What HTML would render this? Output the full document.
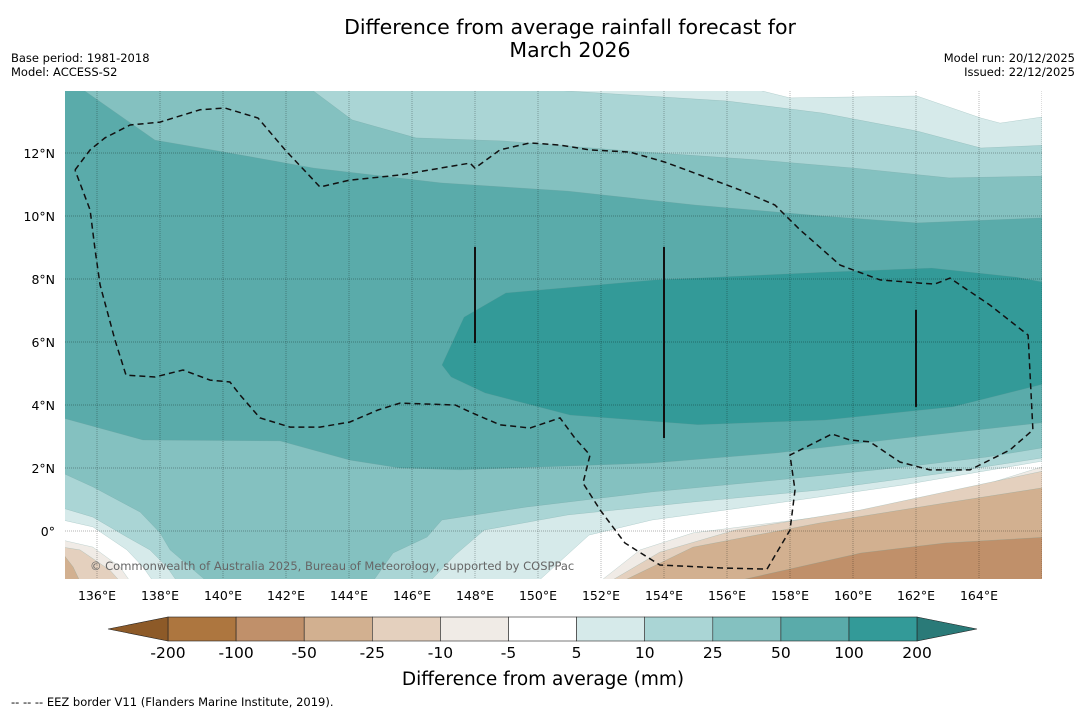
<!DOCTYPE html>
<html><head><meta charset="utf-8"><style>
body{margin:0;background:#fff;}
svg{display:block;font-family:"DejaVu Sans","Liberation Sans",sans-serif;}
</style></head><body>
<svg id="chart" width="1085" height="713" viewBox="0 0 1085 713" xmlns="http://www.w3.org/2000/svg">
<rect width="1085" height="713" fill="#fff"/>
<text x="570" y="34" font-size="20.5" text-anchor="middle" fill="#000">Difference from average rainfall forecast for</text>
<text x="570" y="57" font-size="20.5" text-anchor="middle" fill="#000">March 2026</text>
<text x="11" y="62" font-size="11.5">Base period: 1981-2018</text>
<text x="11" y="76" font-size="11.5">Model: ACCESS-S2</text>
<text x="1075" y="62" font-size="11.5" text-anchor="end">Model run: 20/12/2025</text>
<text x="1075" y="76" font-size="11.5" text-anchor="end">Issued: 22/12/2025</text>
<defs><clipPath id="mapclip"><rect x="65" y="91" width="977" height="488"/></clipPath></defs>
<g id="map" clip-path="url(#mapclip)"></g>
<g id="axes"></g>
<g id="cbar"></g>
<text x="543" y="685" font-size="18.5" text-anchor="middle">Difference from average (mm)</text>
<text x="11" y="706" font-size="11.5">--  --  -- EEZ border V11 (Flanders Marine Institute, 2019).</text>
</svg>
<script>
// ---- data ----
const lonTicks=[136,138,140,142,144,146,148,150,152,154,156,158,160,162,164];
const latTicks=[0,2,4,6,8,10,12];
const cbarLevels=["-200","-100","-50","-25","-10","-5","5","10","25","50","100","200"];
const cbarColors=["#ad763f","#c0906a","#d2b090","#e4d0be","#f0ebe6","#ffffff","#d6eaea","#aad5d5","#84c1c0","#5aabaa","#339a98"];
const contourA=[[135.43,14.1],[137.84,12.41],[139.87,12.06],[142.89,11.52],[146.92,11.05],[150.95,10.79],[154.98,10.35],[159.02,10.0],[162.03,9.78],[166.2,9.95]];
const contourB=[[142.7,14.1],[144.1,13.05],[146.13,12.48],[148.92,12.38],[152.95,12.06],[156.98,11.78],[160.03,11.52],[163.05,11.21],[166.2,11.27]];
const contourC=[[148.92,14.1],[151.97,13.9],[156.0,13.65],[159.02,13.27],[162.03,12.7],[164.06,12.16],[166.2,12.25]];
const contourD=[[156.6,14.1],[158.0,13.75],[162.03,13.81],[164.06,13.11],[164.67,12.95],[166.2,13.17]];
const contourCore=[[146.95,5.27],[147.65,6.79],[148.98,7.56],[153.71,7.97],[159.11,8.22],[162.5,8.35],[165.2,8.06],[166.2,7.87],[166.2,4.7],[163.17,3.94],[159.11,3.52],[155.08,3.37],[151.02,3.68],[148.32,4.38],[147.24,4.89]];
const contourE=[[134.9,3.59],[137.46,2.89],[141.81,2.86],[144.03,2.25],[145.62,2.0],[147.52,1.94],[153.62,2.16],[157.59,2.48],[161.59,2.95],[166.2,3.46]];
const contourFL=[[134.9,1.84],[135.87,1.4],[137.37,0.6],[138.0,-0.06],[138.32,-0.6],[139.49,-1.6]];
const contourFR=[[144.76,-1.6],[145.4,-0.7],[146.48,-0.19],[146.95,0.35],[149.62,0.76],[153.62,1.24],[157.59,1.62],[161.59,2.03],[164.25,2.35],[166.2,2.67]];
const contourGL=[[134.9,0.73],[135.87,0.44],[136.95,-0.19],[137.68,-0.6],[138.22,-1.14],[138.54,-1.6]];
const contourGR=[[146.57,-1.6],[147.37,-0.76],[148.29,0.03],[150.95,0.51],[154.92,0.92],[158.92,1.3],[162.92,1.84],[166.2,2.35]];
const contourHL=[[134.9,0.35],[135.87,0.13],[136.95,-0.6],[137.46,-1.14],[137.78,-1.6]];
const contourHR=[[150.0,-1.6],[151.62,-0.13],[153.62,0.35],[157.59,0.89],[161.59,1.46],[166.2,2.25]];
const contourIL=[[134.9,-0.29],[135.87,-0.51],[136.73,-1.14],[137.05,-1.6]];
const contourIR=[[151.97,-1.6],[153.24,-0.6],[154.92,-0.06],[158.92,0.44],[162.92,1.08],[166.2,2.1]];
const contourJL=[[134.9,-0.51],[135.46,-0.6],[136.41,-1.24],[136.73,-1.6]];
const contourJR=[[152.29,-1.6],[153.87,-0.67],[156.25,0.03],[160.25,0.67],[166.2,1.94]];
const contourKL=[[134.9,-0.7],[135.24,-1.14],[135.46,-1.6]];
const contourKR=[[152.67,-1.6],[154.92,-0.51],[158.92,0.25],[162.92,0.89],[166.2,1.4]];
const contourL=[[156.25,-1.6],[160.25,-0.7],[162.92,-0.38],[166.2,-0.19]];
const eezBorder=[[135.3,11.46],[135.78,12.1],[136.25,12.48],[137.05,12.89],[138.0,12.98],[139.27,13.37],[140.06,13.43],[141.11,13.11],[141.97,12.1],[143.08,10.92],[144.03,11.14],[145.62,11.3],[147.84,11.68],[148.0,11.52],[148.79,12.1],[149.75,12.32],[150.7,12.25],[151.65,12.1],[152.92,12.03],[154.03,11.71],[155.14,11.3],[156.41,10.83],[157.52,10.35],[158.32,9.56],[159.59,8.44],[160.86,7.97],[162.13,7.87],[162.6,7.84],[163.08,8.03],[164.35,7.17],[165.56,6.22],[165.71,3.21],[164.98,2.57],[163.71,1.94],[162.44,1.94],[161.49,2.19],[160.54,2.83],[159.9,2.89],[159.33,3.08],[158.0,2.41],[158.16,1.3],[158.0,0.03],[157.27,-1.21],[155.78,-1.17],[153.87,-1.08],[152.76,-0.38],[151.97,0.67],[151.43,1.52],[151.65,2.41],[151.17,2.95],[150.7,3.59],[149.75,3.27],[148.79,3.37],[147.84,3.78],[147.37,4.0],[145.62,4.06],[144.92,3.84],[144.03,3.46],[143.08,3.3],[142.13,3.3],[141.17,3.59],[140.54,4.32],[140.22,4.73],[139.59,4.79],[138.73,5.11],[137.84,4.89],[136.92,4.95],[136.57,6.06],[136.1,7.81],[135.94,8.92],[135.78,10.19],[135.3,11.46]];
const eezSegments=[[[148,9.02],[148,5.97]],[[154,9.02],[154,2.95]],[[162,7.02],[162,3.94]]];

// ---- scales ----
const NS="http://www.w3.org/2000/svg";
const X=lon=>97+(lon-136)*31.5;
const Y=lat=>531-lat*31.5;
function mk(tag,attrs,parent){const e=document.createElementNS(NS,tag);for(const k in attrs)e.setAttribute(k,attrs[k]);parent.appendChild(e);return e;}
const map=document.getElementById('map');
const axes=document.getElementById('axes');
const cbar=document.getElementById('cbar');
const TOP=14.2,BOT=-1.7,L=134.8,R=166.4;
function poly(pts,extra,fill,name){
  const all=pts.concat(extra);
  const p=mk('polygon',{points:all.map(d=>X(d[0]).toFixed(1)+','+Y(d[1]).toFixed(1)).join(' '),fill:fill,stroke:'#6a9a99','stroke-width':0.4,'stroke-opacity':0.5},map);
  
  
}
const base=mk('rect',{x:65,y:91,width:977,height:488,fill:'#5aabaa'},map);


poly(contourA,[[R,TOP]],'#84c1c0','band-25-50-north');
poly(contourB,[[R,TOP]],'#aad5d5','band-10-25-north');
poly(contourC,[[R,TOP]],'#d6eaea','band-5-10-north');
poly(contourD,[[R,TOP]],'#ffffff','band-neutral-north');
poly(contourCore,[],'#339a98','band-100-200');
poly(contourE,[[R,BOT],[L,BOT]],'#84c1c0','band-25-50-south');
poly(contourFL,[[L,BOT]],'#aad5d5','band-10-25-sw');
poly(contourFR,[[R,BOT]],'#aad5d5','band-10-25-se');
poly(contourGL,[[L,BOT]],'#d6eaea','band-5-10-sw');
poly(contourGR,[[R,BOT]],'#d6eaea','band-5-10-se');
poly(contourHL,[[L,BOT]],'#ffffff','band-neutral-sw');
poly(contourHR,[[R,BOT]],'#ffffff','band-neutral-se');
poly(contourIL,[[L,BOT]],'#f0ebe6','band-minus10-sw');
poly(contourIR,[[R,BOT]],'#f0ebe6','band-minus10-se');
poly(contourJL,[[L,BOT]],'#e4d0be','band-minus25-sw');
poly(contourJR,[[R,BOT]],'#e4d0be','band-minus25-se');
poly(contourKL,[[L,BOT]],'#d2b090','band-minus50-sw');
poly(contourKR,[[R,BOT]],'#d2b090','band-minus50-se');
poly(contourL,[[R,BOT]],'#c0906a','band-minus100-se');

// gridlines
lonTicks.concat([166]).forEach(v=>{const l=mk('line',{x1:X(v),x2:X(v),y1:91,y2:579,stroke:'#000','stroke-opacity':0.35,'stroke-width':0.8,'stroke-dasharray':'1,1'},map);

});
latTicks.forEach(v=>{const l=mk('line',{x1:65,x2:1042,y1:Y(v),y2:Y(v),stroke:'#000','stroke-opacity':0.4,'stroke-width':0.8,'stroke-dasharray':'1,1'},map);

});
// EEZ
const eez=mk('polyline',{points:eezBorder.map(d=>X(d[0]).toFixed(1)+','+Y(d[1]).toFixed(1)).join(' '),fill:'none',stroke:'#111','stroke-width':1.5,'stroke-dasharray':'6,4'},map);


eezSegments.forEach(s=>{const l=mk('line',{x1:X(s[0][0]),y1:Y(s[0][1]),x2:X(s[1][0]),y2:Y(s[1][1]),stroke:'#111','stroke-width':2},map);

});
const cp=mk('text',{x:90,y:570,'font-size':11.5,fill:'#666'},map);
cp.textContent='© Commonwealth of Australia 2025, Bureau of Meteorology, supported by COSPPac';



// axis labels
lonTicks.forEach(v=>{const t=mk('text',{x:X(v),y:600,'font-size':12.5,'text-anchor':'middle'},axes);t.textContent=v+'°E';

});
latTicks.forEach(v=>{const t=mk('text',{x:55,y:Y(v)+5,'font-size':12.5,'text-anchor':'end'},axes);t.textContent=v===0?'0°':v+'°N';

});

// colorbar
const cx0=168,cw=68.1,cy=617,ch=24;
cbarColors.forEach((c,i)=>{const r=mk('rect',{x:cx0+i*cw,y:cy,width:cw,height:ch,fill:c,stroke:'#222','stroke-width':0.6},cbar);

});
const lt=mk('polygon',{points:`108,${cy+ch/2} ${cx0},${cy} ${cx0},${cy+ch}`,fill:'#8d5a28',stroke:'#222','stroke-width':0.6},cbar);


const xe=cx0+cbarColors.length*cw;
const rt=mk('polygon',{points:`${xe},${cy} 977,${cy+ch/2} ${xe},${cy+ch}`,fill:'#2a7a78',stroke:'#222','stroke-width':0.6},cbar);


cbarLevels.forEach((s,i)=>{const t=mk('text',{x:cx0+i*cw,y:658,'font-size':15.5,'text-anchor':'middle'},cbar);t.textContent=s;

});
</script>
</body></html>
